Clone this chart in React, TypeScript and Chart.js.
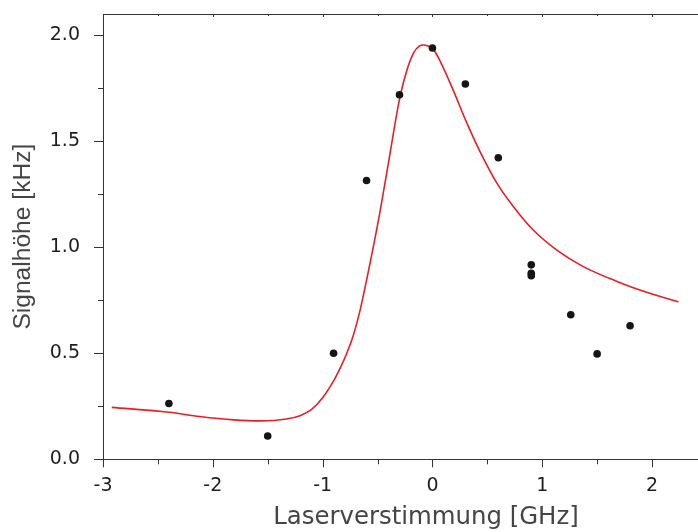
import React, { useEffect, useRef } from 'react';
import { Chart, registerables } from 'chart.js';

Chart.register(...registerables);

// Measured points (Laserverstimmung [GHz], Signalhöhe [kHz])
const measX = [-2.4, -1.5, -0.9, -0.6, -0.3, 0.0, 0.3, 0.6, 0.9, 0.9, 0.9, 1.26, 1.5, 1.8];
const measY = [0.263, 0.11, 0.5, 1.315, 1.719, 1.94, 1.77, 1.422, 0.917, 0.877, 0.866, 0.682, 0.497, 0.63];

// Fit curve
const fitX = [-2.92, -2.4, -2.12, -1.81, -1.57, -1.33, -1.2, -1.1, -1.0, -0.9, -0.84, -0.78, -0.72, -0.66, -0.57, -0.48, -0.39, -0.3, -0.23, -0.17, -0.12, -0.085, -0.04, 0.01, 0.07, 0.19, 0.31, 0.43, 0.59, 0.74, 0.92, 1.13, 1.37, 1.68, 1.95, 2.24];
const fitY = [0.245, 0.222, 0.202, 0.186, 0.181, 0.19, 0.207, 0.235, 0.29, 0.37, 0.43, 0.5, 0.585, 0.7, 0.92, 1.16, 1.43, 1.697, 1.839, 1.918, 1.948, 1.954, 1.949, 1.932, 1.878, 1.74, 1.59, 1.455, 1.3, 1.19, 1.08, 0.988, 0.91, 0.839, 0.788, 0.742];

const xLabelTicks = [-3, -2, -1, 0, 1, 2];
const xMarkTicks = [-3, -2.5, -2, -1.5, -1, -0.5, 0, 0.5, 1, 1.5, 2, 2.5];
const yLabelTicks = [0, 0.5, 1, 1.5, 2];
const yMarkTicks = [0, 0.25, 0.5, 0.75, 1, 1.25, 1.5, 1.75, 2];

const xTitle = 'Laserverstimmung [GHz]';
const yTitle = 'Signalhöhe [kHz]';

const X_MIN = -3;
const X_MAX = 2.883;
const Y_MIN = 0;
const Y_MAX = 2.1;

const AXIS_COLOR = '#333333';

const framePlugin = {
  id: 'frameTicks',
  afterDraw(chart: any) {
    const { ctx, chartArea: a, scales } = chart;
    const xs = scales.x;
    const ys = scales.y;
    ctx.save();
    ctx.strokeStyle = AXIS_COLOR;
    ctx.lineWidth = 1;
    ctx.beginPath();
    // top frame line
    ctx.moveTo(a.left, Math.round(a.top) + 0.5);
    ctx.lineTo(a.right, Math.round(a.top) + 0.5);
    xMarkTicks.forEach((v) => {
      const px = Math.round(xs.getPixelForValue(v)) + 0.5;
      const major = Number.isInteger(v);
      ctx.moveTo(px, a.bottom);
      ctx.lineTo(px, a.bottom + (major ? 8 : 5));
      ctx.moveTo(px, a.top);
      ctx.lineTo(px, a.top + (major ? 3 : 2));
    });
    yMarkTicks.forEach((v) => {
      const py = Math.round(ys.getPixelForValue(v)) + 0.5;
      const major = Math.abs(v * 2 - Math.round(v * 2)) < 1e-9;
      ctx.moveTo(a.left, py);
      ctx.lineTo(a.left - (major ? 9 : 5), py);
    });
    ctx.stroke();
    ctx.restore();
  },
};

export default function App() {
  const canvasRef = useRef<HTMLCanvasElement | null>(null);

  useEffect(() => {
    if (!canvasRef.current) return;
    const chart = new Chart(canvasRef.current, {
      type: 'scatter',
      data: {
        datasets: [
          {
            label: 'Messung',
            data: measX.map((x, i) => ({ x, y: measY[i] })),
            backgroundColor: '#151515',
            borderColor: '#151515',
            pointRadius: 3.8,
            pointHoverRadius: 3.8,
            borderWidth: 0,
          },
          {
            label: 'Fit',
            data: fitX.map((x, i) => ({ x, y: fitY[i] })),
            showLine: true,
            borderColor: '#ec1c24',
            backgroundColor: '#ec1c24',
            borderWidth: 1.6,
            pointRadius: 0,
            pointHoverRadius: 0,
            tension: 0.4,
            cubicInterpolationMode: 'monotone',
          },
        ],
      },
      options: {
        animation: false,
        responsive: true,
        maintainAspectRatio: false,
        layout: { padding: { top: 14, right: 6, left: 0, bottom: 0 } },
        plugins: {
          legend: { display: false },
          tooltip: { enabled: false },
          title: { display: false },
        },
        scales: {
          x: {
            type: 'linear',
            position: 'bottom',
            min: X_MIN,
            max: X_MAX,
            afterBuildTicks: (scale: any) => {
              scale.ticks = xLabelTicks.map((v) => ({ value: v }));
            },
            afterFit: (scale: any) => {
              scale.height = 72.7;
              scale.paddingLeft = 0;
              scale.paddingRight = 0;
            },
            grid: { display: false },
            border: { display: true, color: AXIS_COLOR, width: 1 },
            ticks: {
              padding: 7,
              color: '#1e1e1e',
              font: { family: '"DejaVu Sans", sans-serif', size: 19 },
              callback: (v: any) => String(v),
              maxRotation: 0,
              autoSkip: false,
            },
            title: {
              display: true,
              text: xTitle,
              color: '#454545',
              font: { family: '"DejaVu Sans", sans-serif', size: 24.4 },
              padding: { top: 0, bottom: 0 },
            },
          },
          y: {
            type: 'linear',
            position: 'left',
            min: Y_MIN,
            max: Y_MAX,
            afterBuildTicks: (scale: any) => {
              scale.ticks = yLabelTicks.map((v) => ({ value: v }));
            },
            afterFit: (scale: any) => {
              scale.width = 103;
              scale.paddingTop = 0;
              scale.paddingBottom = 0;
            },
            grid: { display: false },
            border: { display: true, color: AXIS_COLOR, width: 1 },
            ticks: {
              padding: 15,
              color: '#1e1e1e',
              font: { family: '"DejaVu Sans", sans-serif', size: 19 },
              callback: (v: any) => Number(v).toFixed(1),
              autoSkip: false,
            },
            title: {
              display: true,
              text: yTitle,
              color: '#454545',
              font: { family: '"Liberation Sans", Arial, sans-serif', size: 24.6 },
              padding: { top: 8, bottom: 0 },
            },
          },
        },
      },
      plugins: [framePlugin],
    } as any);
    return () => chart.destroy();
  }, []);

  return (
    <div
      style={{
        position: 'absolute',
        left: 0,
        top: 0,
        width: 698,
        height: 532,
        overflow: 'hidden',
        background: '#ffffff',
      }}
    >
      <div style={{ position: 'relative', width: 755, height: 532 }}>
        <canvas ref={canvasRef} />
      </div>
    </div>
  );
}
